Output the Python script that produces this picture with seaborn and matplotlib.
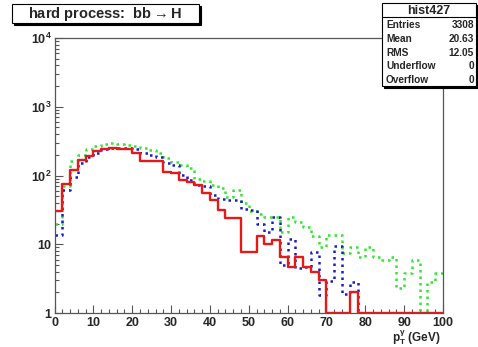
import numpy as np
import pandas as pd
import matplotlib
matplotlib.use("Agg")
import matplotlib.pyplot as plt
import seaborn as sns
from matplotlib.patches import Rectangle

# ---------------- data (2 GeV bins from 0 to 100) ----------------
bin_edges = list(range(0, 101, 2))
red_vals = [30, 75, 120, 170, 195, 225, 245, 250, 245, 240,
            215, 165, 165, 160, 112, 108, 85, 80, 72, 55,
            44, 31, 24, 24, 7.8, 7.8, 13, 10, 11.5, 6.6,
            4.7, 6.6, 4.7, 4.0, 3.0, 0, 0, 0, 2, 0,
            0, 0, 0, 0, 0, 0, 0, 0, 0, 0]
blue_vals = [13.5, 62, 95, 150, 185, 215, 240, 250, 255, 250,
             240, 215, 200, 185, 150, 142, 101, 86, 72, 70,
             52, 45, 44, 44, 33, 31, 20, 15, 25, 5,
             12, 4.5, 4.7, 7.8, 1.8, 2.9, 9.5, 1.9, 2.8, 0,
             0, 0, 0, 0, 0, 0, 0, 0, 0, 0]
green_vals = [20, 70, 160, 200, 240, 270, 290, 295, 290, 280,
              270, 250, 235, 210, 180, 155, 140, 128, 90, 83,
              72, 66, 49, 62, 40, 30, 28, 25, 25, 15,
              25, 21, 18, 13, 9, 13.6, 13.6, 7.5, 9.2, 6.6,
              9.2, 6.6, 5.9, 6.6, 2.3, 3.8, 5.9, 0, 2.85, 3.8]
y_ticks = [1, 10, 100, 1000, 10000]
y_tick_labels = ["1", "10", r"10$^{2}$", r"10$^{3}$", r"10$^{4}$"]
x_ticks = [0, 10, 20, 30, 40, 50, 60, 70, 80, 90, 100]
title_text = r"hard process:  bb$\rightarrow$H"
x_label = r"p$_{T}^{\gamma}$ (GeV)"
stats_title = "hist427"
stats_names = ["Entries", "Mean", "RMS", "Underflow", "Overflow"]
stats_values = ["3308", "20.63", "12.05", "0", "0"]

# ---------------- style ----------------
sns.set_style("white")
plt.rcParams["font.family"] = ["Liberation Sans", "DejaVu Sans"]
plt.rcParams["mathtext.fontset"] = "custom"
plt.rcParams["mathtext.rm"] = "Liberation Sans:bold"
plt.rcParams["mathtext.it"] = "Liberation Sans:bold"
plt.rcParams["mathtext.bf"] = "Liberation Sans:bold"

W, H = 478, 347
fig = plt.figure(figsize=(W / 100, H / 100), dpi=100)
L, R, T, B = 54.5, 443, 38, 313
ax = fig.add_axes([L / W, 1 - B / H, (R - L) / W, (B - T) / H])


def step_frame(vals, name):
    v = np.clip(np.array(vals, dtype=float), 1.0, None)
    y = np.append(v, v[-1])
    return pd.DataFrame({"x": bin_edges, "y": y, "s": name})


ax.set_yscale("log")
sns.lineplot(data=step_frame(green_vals, "green"), x="x", y="y", ax=ax,
             drawstyle="steps-post", color="#33e633", lw=1.8,
             linestyle=(0, (1, 1.6)), estimator=None, sort=False)
sns.lineplot(data=step_frame(blue_vals, "blue"), x="x", y="y", ax=ax,
             drawstyle="steps-post", color="#1a1acc", lw=1.8,
             linestyle=(0, (1, 1.6)), estimator=None, sort=False)
sns.lineplot(data=step_frame(red_vals, "red"), x="x", y="y", ax=ax,
             drawstyle="steps-post", color="#e61919", lw=1.7,
             estimator=None, sort=False)

ax.set_xlim(0, 100)
ax.set_ylim(1, 10000)
ax.set_xlabel("")
ax.set_ylabel("")
ax.set_xticks(x_ticks)
ax.set_xticklabels([str(t) for t in x_ticks], fontsize=9, fontweight="bold")
ax.set_xticks(np.arange(0, 101, 2), minor=True)
ax.set_yticks(y_ticks)
ax.set_yticklabels(y_tick_labels, fontsize=9, fontweight="bold")
ax.yaxis.set_minor_locator(matplotlib.ticker.LogLocator(base=10, subs=np.arange(2, 10)))
ax.yaxis.set_minor_formatter(matplotlib.ticker.NullFormatter())
ax.tick_params(axis="both", which="major", direction="in", length=6,
               width=0.8, color="#555555", pad=2)
ax.tick_params(axis="x", which="major", pad=3)
ax.tick_params(axis="both", which="minor", direction="in", length=3,
               width=0.8, color="#555555")
ax.tick_params(top=False, right=False, left=True, bottom=True,
               which="both")
for sp in ax.spines.values():
    sp.set_visible(True)
    sp.set_color("#555555")
    sp.set_linewidth(0.9)

fig.text(441 / W, 1 - 338 / H, x_label, ha="right", va="center",
         fontsize=8.5, fontweight="bold")

# ---------------- title box ----------------
def px_box(x0, y0, x1, y1, shadow=2):
    fig.patches.append(Rectangle((x0 / W + shadow / W, 1 - (y1 + shadow) / H),
                                 (x1 - x0) / W, (y1 - y0) / H,
                                 transform=fig.transFigure, facecolor="black",
                                 edgecolor="black", lw=0.8, zorder=5))
    fig.patches.append(Rectangle((x0 / W, 1 - y1 / H), (x1 - x0) / W,
                                 (y1 - y0) / H, transform=fig.transFigure,
                                 facecolor="white", edgecolor="black",
                                 lw=0.8, zorder=6))

px_box(12, 4, 199, 23)
fig.text(105 / W, 1 - 14 / H, title_text, ha="center", va="center",
         fontsize=10.5, fontweight="bold", zorder=7)

# ---------------- stats box ----------------
px_box(382, 3, 476, 86)
fig.lines.append(matplotlib.lines.Line2D([382 / W, 476 / W],
                                         [1 - 17 / H, 1 - 17 / H],
                                         transform=fig.transFigure,
                                         color="black", lw=0.8, zorder=7))
fig.text(429 / W, 1 - 10.5 / H, stats_title, ha="center", va="center",
         fontsize=9, fontweight="bold", zorder=7)
row_y = [25, 39, 53, 66, 80]
for name, val, yy in zip(stats_names, stats_values, row_y):
    fig.text(386 / W, 1 - yy / H, name, ha="left", va="center",
             fontsize=7.3, fontweight="bold", zorder=7)
    fig.text(474 / W, 1 - yy / H, val, ha="right", va="center",
             fontsize=7.3, fontweight="bold", zorder=7)

fig.savefig("out.png", dpi=100, facecolor="white")
